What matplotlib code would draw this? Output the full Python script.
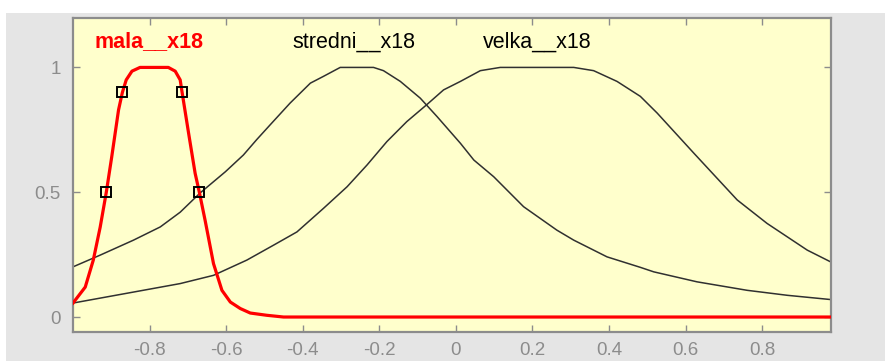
import matplotlib
matplotlib.use("Agg")
import matplotlib.pyplot as plt
from matplotlib.patches import Rectangle

# ---- data ----
mala_x = [-1.0, -0.968, -0.947, -0.929, -0.913, -0.899, -0.881, -0.871, -0.861, -0.846,
          -0.825, -0.80, -0.775, -0.751, -0.733, -0.72, -0.715, -0.698, -0.681, -0.67,
          -0.655, -0.633, -0.611, -0.589, -0.563, -0.537, -0.494, -0.45, 0.98]
mala_y = [0.056, 0.12, 0.228, 0.36, 0.5, 0.64, 0.83, 0.9, 0.95, 0.985,
          1.0, 1.0, 1.0, 1.0, 0.985, 0.95, 0.9, 0.736, 0.576, 0.5,
          0.388, 0.214, 0.107, 0.06, 0.034, 0.016, 0.007, 0.0, 0.0]

stredni_x = [-1.0, -0.929, -0.842, -0.772, -0.720, -0.668, -0.602, -0.555, -0.520, -0.485,
             -0.433, -0.380, -0.346, -0.302, -0.215, -0.189, -0.145, -0.093, -0.049, 0.012,
             0.047, 0.099, 0.177, 0.264, 0.308, 0.395, 0.482, 0.517, 0.63, 0.761,
             0.866, 0.979]
stredni_y = [0.201, 0.248, 0.308, 0.361, 0.42, 0.497, 0.582, 0.649, 0.711, 0.770,
             0.857, 0.937, 0.964, 1.0, 1.0, 0.987, 0.944, 0.877, 0.803, 0.696,
             0.629, 0.562, 0.442, 0.348, 0.308, 0.241, 0.199, 0.181, 0.141, 0.107,
             0.087, 0.07]

velka_x = [-1.0, -0.842, -0.720, -0.633, -0.546, -0.476, -0.415, -0.346, -0.284, -0.232,
           -0.180, -0.128, -0.075, -0.032, 0.012, 0.064, 0.116, 0.308, 0.360, 0.421,
           0.482, 0.526, 0.622, 0.735, 0.813, 0.918, 0.979]
velka_y = [0.056, 0.100, 0.134, 0.167, 0.228, 0.288, 0.341, 0.435, 0.522, 0.609,
           0.703, 0.783, 0.852, 0.910, 0.944, 0.987, 1.0, 1.0, 0.987, 0.944,
           0.884, 0.817, 0.656, 0.469, 0.375, 0.268, 0.221]

marker_x = [-0.913, -0.871, -0.715, -0.67]
marker_y = [0.5, 0.9, 0.9, 0.5]

labels = ["mala__x18", "stredni__x18", "velka__x18"]
label_x = [-0.801, -0.265, 0.213]
label_y = [1.103, 1.103, 1.103]

xticks = [-0.8, -0.6, -0.4, -0.2, 0, 0.2, 0.4, 0.6, 0.8]
xticklabels = ["-0.8", "-0.6", "-0.4", "-0.2", "0", "0.2", "0.4", "0.6", "0.8"]
yticks = [0, 0.5, 1]
yticklabels = ["0", "0.5", "1"]

# ---- figure ----
plt.rcParams['font.family'] = ['Liberation Sans', 'DejaVu Sans']
fig = plt.figure(figsize=(8.85, 3.61), dpi=100, facecolor='white')
bg = Rectangle((6 / 885, 0), 1 - 6 / 885, 1 - 13 / 361,
               transform=fig.transFigure, facecolor='#e5e5e5',
               edgecolor='none', zorder=-10)
fig.add_artist(bg)

ax = fig.add_axes([73 / 885, 1 - 332 / 361, (831 - 73) / 885, (332 - 17.5) / 361])
ax.set_zorder(1)
ax.set_facecolor('#ffffcc')

ax.plot(stredni_x, stredni_y, color='#303030', lw=1.1, zorder=2)
ax.plot(velka_x, velka_y, color='#303030', lw=1.1, zorder=2)
ax.plot(mala_x, mala_y, color='#ff0000', lw=2.3, zorder=3)
ax.plot(marker_x, marker_y, linestyle='none', marker='s', markersize=7.5,
        markerfacecolor='none', markeredgecolor='black', markeredgewidth=1.4, zorder=4)

colors = ['#ff0000', 'black', 'black']
weights = ['bold', 'normal', 'normal']
for t, x, y, c, w in zip(labels, label_x, label_y, colors, weights):
    ax.text(x, y, t, color=c, fontweight=w, fontsize=15.5, ha='center', va='center')

ax.set_xlim(-1.0, 0.98)
ax.set_ylim(-0.06, 1.2)
ax.set_xticks(xticks)
ax.set_xticklabels(xticklabels)
ax.set_yticks(yticks)
ax.set_yticklabels(yticklabels)
ax.tick_params(axis='both', direction='in', length=5, width=1, color='#8c8c8c',
               labelcolor='#8c8c8c', labelsize=13.5, top=True, right=True)
ax.tick_params(axis='x', pad=7)
ax.tick_params(axis='y', pad=9)
for s in ax.spines.values():
    s.set_color('#8c8c8c')
    s.set_linewidth(1.6)

fig.savefig('out.png', dpi=100, facecolor='white')
